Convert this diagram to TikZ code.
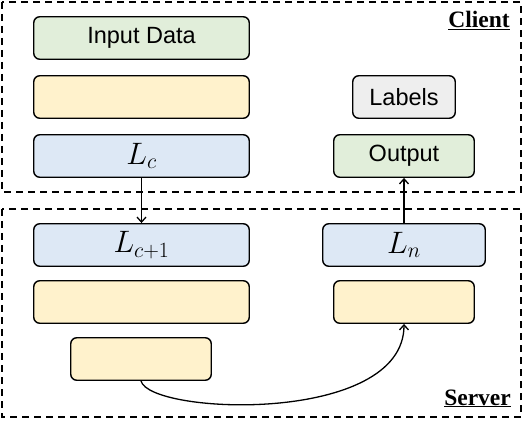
\RequirePackage{fix-cm}
\documentclass[tikz,border=0pt]{standalone}
\usepackage{fontspec}
\setmainfont{Liberation Serif}
\newfontfamily\sansf{Liberation Sans}
\usetikzlibrary{arrows.meta}
\definecolor{cgreen}{HTML}{E1EEDA}
\definecolor{cyellow}{HTML}{FFF2CC}
\definecolor{cblue}{HTML}{DDE8F5}
\definecolor{cgray}{HTML}{EEEEEE}
\begin{document}
\begin{tikzpicture}[x=1pt,y=1pt,
  blk/.style={draw=black, line width=1.4pt, rounded corners=6pt, inner sep=0pt,
    minimum height=42.5pt, font=\sansf\fontsize{23.5}{26}\selectfont},
  wide/.style={blk, minimum width=215.5pt},
  mid/.style={blk, minimum width=140.5pt},
  mathtxt/.style={font=\fontsize{31}{34}\selectfont},
  region/.style={draw=black, line width=1.5pt, dash pattern=on 7pt off 5pt},
  regionlabel/.style={font=\bfseries\fontsize{23.5}{26}\selectfont, inner sep=0pt},
  conn/.style={line width=1.3pt, -{Straight Barb[length=5pt,width=9pt]}}]
\useasboundingbox (0,0) rectangle (524,420);
% regions
\draw[region] (2,418) rectangle (521,228);
\draw[region] (2,211) rectangle (521,3);
\node[regionlabel, anchor=base east] (client) at (510,392) {\underline{Client}};
\node[regionlabel, anchor=base east] (server) at (511,15) {\underline{Server}};
% client nodes
\node[wide, fill=cgreen] (input) at (141.5,382) {Input Data};
\node[wide, fill=cyellow] (y1) at (141.5,323) {};
\node[wide, fill=cblue, mathtxt] (lc) at (141.5,264) {$L_c$};
\node[blk, fill=cgray, minimum width=102.5pt] (labels) at (404,323) {Labels};
\node[mid, fill=cgreen] (output) at (404,264) {Output};
% server nodes
\node[wide, fill=cblue, mathtxt] (lc1) at (141.5,175) {$L_{c+1}$};
\node[wide, fill=cyellow] (y2) at (141.5,118) {};
\node[mid, fill=cyellow] (y3) at (141,61) {};
\node[blk, fill=cblue, mathtxt, minimum width=162.5pt] (ln) at (404,175) {$L_n$};
\node[mid, fill=cyellow] (y4) at (404,118) {};
% connectors
\draw[conn] (lc.south) -- (lc1.north);
\draw[conn] (ln.north) -- (output.south);
\draw[conn] (y3.south) .. controls (150,5) and (404,-5) .. (y4.south);
\end{tikzpicture}
\end{document}
